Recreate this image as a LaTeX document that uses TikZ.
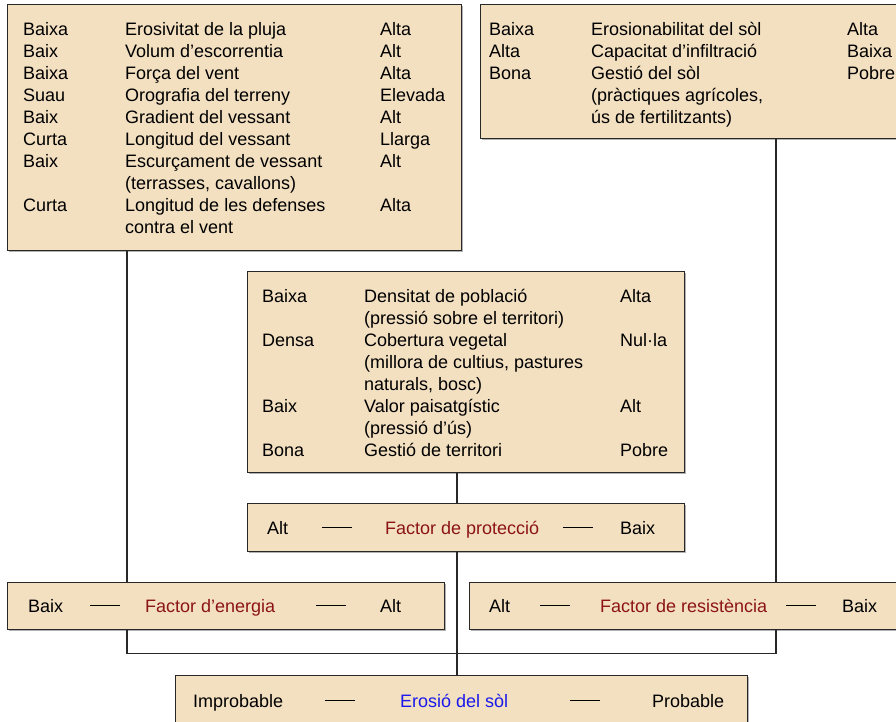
\documentclass[tikz,border=0pt]{standalone}
\usepackage{fontspec}
\setmainfont{Liberation Sans}
\usepackage{array}
\usetikzlibrary{positioning,shadows}
\definecolor{BoxFill}{RGB}{243,224,193}
\definecolor{BoxLine}{RGB}{40,40,40}
\definecolor{FactorRed}{RGB}{140,20,20}
\definecolor{SoilBlue}{RGB}{25,25,235}
\setlength{\tabcolsep}{0pt}
\newcommand{\rowdash}{\rule[6pt]{30pt}{1.3pt}}

\begin{document}
\begin{tikzpicture}[x=1pt,y=-1pt,
    factbox/.style={draw=BoxLine,fill=BoxFill,line width=1.3pt,anchor=north west,inner sep=0pt,
                    drop shadow={shadow xshift=1pt,shadow yshift=-1pt,fill=gray!60,opacity=1}},
    tab/.style={anchor=base west,inner sep=0pt,font=\fontsize{18}{22}\selectfont},
    link/.style={BoxLine,line width=1.3pt}
  ]
    \useasboundingbox (0,0) rectangle (896,722);
    % boxes
    \node[factbox,minimum width=454pt,minimum height=246pt] (energylist) at (7,4) {};
    \node[factbox,minimum width=430pt,minimum height=134pt] (soillist) at (480,4) {};
    \node[factbox,minimum width=437pt,minimum height=201pt] (landlist) at (247,271) {};
    \node[factbox,minimum width=437pt,minimum height=48pt] (protectbox) at (247,503) {};
    \node[factbox,minimum width=437pt,minimum height=47pt] (energybox) at (7,582) {};
    \node[factbox,minimum width=440pt,minimum height=47pt] (resistbox) at (469,582) {};
    \node[factbox,minimum width=572pt,minimum height=50pt] (erosionbox) at (175,675) {};
    % lists
    \node[tab] (energytab) at (23,36) {\begin{tabular}[t]{p{102pt}p{255pt}l}
      Baixa & Erosivitat de la pluja & Alta\\
      Baix & Volum d’escorrentia & Alt\\
      Baixa & Força del vent & Alta\\
      Suau & Orografia del terreny & Elevada\\
      Baix & Gradient del vessant & Alt\\
      Curta & Longitud del vessant & Llarga\\
      Baix & Escurçament de vessant & Alt\\
       & (terrasses, cavallons) & \\
      Curta & Longitud de les defenses & Alta\\
       & contra el vent &
    \end{tabular}};
    \node[tab] (soiltab) at (489,36) {\begin{tabular}[t]{p{102pt}p{256pt}l}
      Baixa & Erosionabilitat del sòl & Alta\\
      Alta & Capacitat d’infiltració & Baixa\\
      Bona & Gestió del sòl & Pobre\\
       & (pràctiques agrícoles, & \\
       & ús de fertilitzants) &
    \end{tabular}};
    \node[tab] (landtab) at (262,302) {\begin{tabular}[t]{p{102pt}p{256pt}l}
      Baixa & Densitat de població & Alta\\
       & (pressió sobre el territori) & \\
      Densa & Cobertura vegetal & Nul·la\\
       & (millora de cultius, pastures & \\
       & naturals, bosc) & \\
      Baix & Valor paisatgístic & Alt\\
       & (pressió d’ús) & \\
      Bona & Gestió de territori & Pobre
    \end{tabular}};
    % factor rows
    \node[tab] (protectrow) at (267,534) {\begin{tabular}[t]{p{55pt}p{63pt}p{178pt}p{57pt}l}
      Alt & \rowdash & \textcolor{FactorRed}{Factor de protecció} & \rowdash & Baix
    \end{tabular}};
    \node[tab] (energyrow) at (28,612) {\begin{tabular}[t]{p{62pt}p{55pt}p{171pt}p{64pt}l}
      Baix & \rowdash & \textcolor{FactorRed}{Factor d’energia} & \rowdash & Alt
    \end{tabular}};
    \node[tab] (resistrow) at (489,612) {\begin{tabular}[t]{p{51pt}p{60pt}p{186pt}p{56pt}l}
      Alt & \rowdash & \textcolor{FactorRed}{Factor de resistència} & \rowdash & Baix
    \end{tabular}};
    \node[tab] (erosionrow) at (193,707) {\begin{tabular}[t]{p{132pt}p{75pt}p{170pt}p{82pt}l}
      Improbable & \rowdash & \textcolor{SoilBlue}{Erosió del sòl} & \rowdash & Probable
    \end{tabular}};
    % connectors
    \draw[link] ([xshift=120pt]energylist.south west) coordinate (ea) -- (ea |- energybox.north);
    \draw[link] ([xshift=296pt]soillist.south west) coordinate (sa) -- (sa |- resistbox.north);
    \draw[link] ([xshift=210pt]landlist.south west) coordinate (la) -- (la |- protectbox.north);
    \draw[link] (la |- protectbox.south) -- (la |- erosionbox.north);
    \draw[link] (ea |- energybox.south) -- ++(0,23) -| (sa |- resistbox.south);
\end{tikzpicture}
\end{document}
